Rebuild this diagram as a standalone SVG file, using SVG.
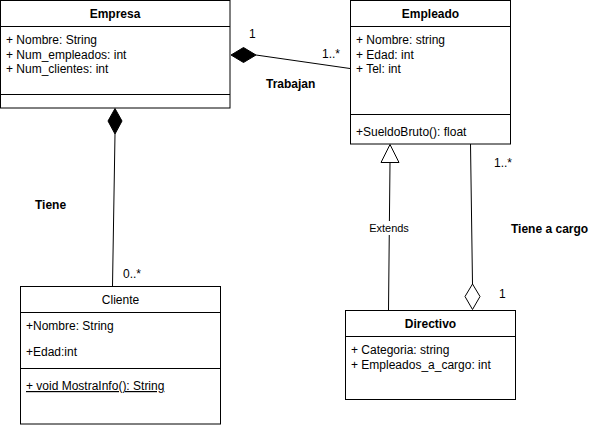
<svg xmlns="http://www.w3.org/2000/svg" width="592" height="425" viewBox="0 0 592 425">
<style>
text{font-family:"Liberation Sans",Arial,sans-serif;font-size:12px;fill:#000}
.t{font-weight:bold;text-anchor:middle}
.c{text-anchor:middle}
.b{font-weight:bold}
.box{fill:#fff;stroke:#000;stroke-width:1}
.ln{stroke:#000;stroke-width:1;fill:none}
</style>
<rect width="592" height="425" fill="#fff"/>
<g id="connectors">
<path class="ln" d="M256 55 L350 68.5"/>
<path d="M231 55 L243.5 47.5 L256 55 L243.5 62.5 Z" fill="#000" stroke="#000"/>
<path class="ln" d="M115 134 L112.5 286"/>
<path d="M115 108.5 L122 121 L115 134 L108 121 Z" fill="#000" stroke="#000"/>
<path class="ln" d="M388.5 310 L390 162.5"/>
<path d="M390 144.5 L399 162.5 L381 162.5 Z" fill="#fff" stroke="#000"/>
<path class="ln" d="M470.5 144 L472.5 284"/>
<path d="M472.5 284 L480 296.5 L472.5 309.5 L465 296.5 Z" fill="#fff" stroke="#000"/>
<rect x="366" y="221" width="46" height="14" fill="#fff"/>
<text class="c" x="389" y="232" style="font-size:11px">Extends</text>
<text x="249" y="38">1</text>
<text x="322" y="58">1..*</text>
<text class="b" x="266" y="88">Trabajan</text>
<text class="b" x="35" y="209">Tiene</text>
<text x="123" y="278">0..*</text>
<text x="494" y="167">1..*</text>
<text class="b" x="511" y="233">Tiene a cargo</text>
<text x="499" y="298">1</text>
</g>
<g id="empresa">
<rect class="box" x="0.5" y="0.5" width="229.5" height="107.5"/>
<path class="ln" d="M0.5 26.5 H230 M0.5 94.5 H230"/>
<text class="t" x="115" y="18">Empresa</text>
<text x="6" y="44">+ Nombre: String</text>
<text x="6" y="58.5">+ Num_empleados: int</text>
<text x="6" y="73">+ Num_clientes: int</text>
</g>
<g id="empleado">
<rect class="box" x="350.5" y="0.5" width="160" height="143.5"/>
<path class="ln" d="M350.5 26.5 H510.5 M350.5 114.5 H510.5"/>
<text class="t" x="430.5" y="18">Empleado</text>
<text x="356" y="44">+ Nombre: string</text>
<text x="356" y="58.5">+ Edad: int</text>
<text x="356" y="73">+ Tel: int</text>
<text x="356" y="136">+SueldoBruto(): float</text>
</g>
<g id="cliente">
<rect class="box" x="20.5" y="286.5" width="200" height="137.5"/>
<path class="ln" d="M20.5 312.5 H220.5 M20.5 368.5 H220.5"/>
<text class="c" x="120.5" y="304">Cliente</text>
<text x="26" y="329.5">+Nombre: String</text>
<text x="26" y="356">+Edad:int</text>
<text x="26" y="390" text-decoration="underline">+ void MostraInfo(): String</text>
</g>
<g id="directivo">
<rect class="box" x="345.5" y="310.5" width="170" height="89"/>
<path class="ln" d="M345.5 336.5 H515.5"/>
<text class="t" x="430.5" y="328">Directivo</text>
<text x="351" y="354">+ Categoria: string</text>
<text x="351" y="368.5">+ Empleados_a_cargo: int</text>
</g>
</svg>
